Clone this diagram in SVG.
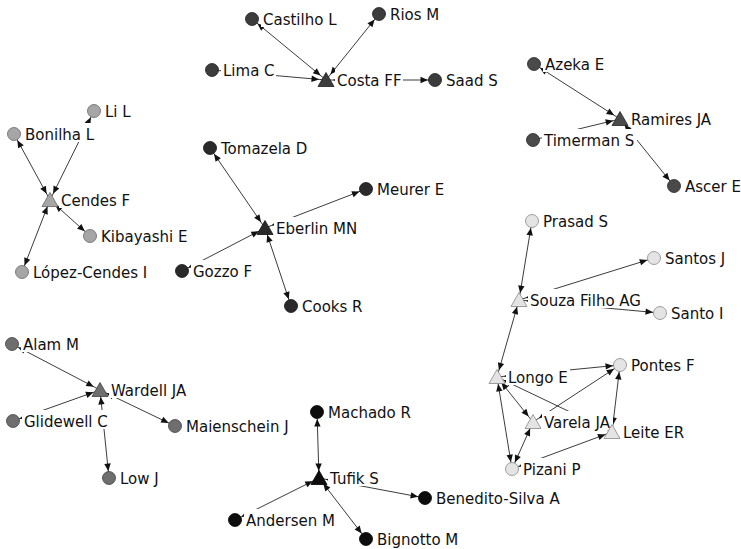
<svg xmlns="http://www.w3.org/2000/svg" xmlns:xlink="http://www.w3.org/1999/xlink" width="741" height="549" viewBox="0 0 741 549">
  <style>
    .e line { stroke: #262626; stroke-width: 0.9; marker-start: url(#ah); marker-end: url(#ah); }
    .e line.one { marker-start: none; }
    .lb { fill: #fff; }
    text { font-family: "DejaVu Sans", Verdana, sans-serif; font-size: 15px; fill: #111; }
    .g1 { fill: #3c3c3c; stroke: #1e1e1e; stroke-width: 0.8; }
    .g2 { fill: #a6a6a6; stroke: #666; stroke-width: 0.8; }
    .g3 { fill: #2a2a2a; stroke: #111; stroke-width: 0.8; }
    .g4 { fill: #4a4a4a; stroke: #262626; stroke-width: 0.8; }
    .g5 { fill: #e4e4e4; stroke: #888; stroke-width: 0.8; }
    .g6 { fill: #6e6e6e; stroke: #404040; stroke-width: 0.8; }
    .g7 { fill: #0d0d0d; stroke: #000; stroke-width: 0.8; }
  </style>
  <defs>
    <marker id="ah" viewBox="-16 -4 16 8" refX="0" refY="0" markerWidth="16" markerHeight="8" markerUnits="userSpaceOnUse" orient="auto-start-reverse">
      <path d="M-7,0 L-14.5,-3.2 L-14.5,3.2 Z" fill="#111"/>
    </marker>
    <circle id="dot" r="6.5"/>
    <path id="tri" d="M0,-7.5 L8,6.5 L-8,6.5 Z"/>
  </defs>
  <rect width="741" height="549" fill="#fff"/>

  <!-- connectors: drawn centre to centre, label boxes mask the hidden parts -->
  <g id="connectors" class="e">
    <line x1="252" y1="19" x2="326" y2="80"/>
    <line x1="379" y1="14" x2="326" y2="80"/>
    <line class="one" x1="212" y1="70" x2="326" y2="80"/>
    <line x1="326" y1="80" x2="435" y2="80"/>
    <line x1="14" y1="134" x2="50" y2="200"/>
    <line x1="94" y1="111" x2="50" y2="200"/>
    <line x1="50" y1="200" x2="90" y2="236"/>
    <line x1="50" y1="200" x2="22" y2="272"/>
    <line x1="210" y1="148" x2="265" y2="228"/>
    <line x1="265" y1="228" x2="366" y2="189"/>
    <line x1="182" y1="271" x2="265" y2="228"/>
    <line x1="265" y1="228" x2="291" y2="306"/>
    <line x1="534" y1="64" x2="620" y2="119"/>
    <line class="one" x1="533" y1="140" x2="620" y2="119"/>
    <line x1="620" y1="119" x2="674" y2="186"/>
    <line x1="532" y1="221" x2="519" y2="300"/>
    <line x1="519" y1="300" x2="654" y2="258"/>
    <line x1="519" y1="300" x2="660" y2="313"/>
    <line x1="519" y1="300" x2="497" y2="377"/>
    <line x1="497" y1="377" x2="620" y2="365"/>
    <line x1="533" y1="422" x2="620" y2="365"/>
    <line x1="612" y1="432" x2="620" y2="365"/>
    <line x1="497" y1="377" x2="533" y2="422"/>
    <line x1="497" y1="377" x2="612" y2="432"/>
    <line x1="497" y1="377" x2="512" y2="469"/>
    <line x1="512" y1="469" x2="533" y2="422"/>
    <line x1="512" y1="469" x2="612" y2="432"/>
    <line x1="12" y1="344" x2="100" y2="390"/>
    <line x1="13" y1="421" x2="100" y2="390"/>
    <line x1="100" y1="390" x2="175" y2="426"/>
    <line x1="100" y1="390" x2="109" y2="478"/>
    <line x1="317" y1="412" x2="319" y2="478"/>
    <line x1="235" y1="520" x2="319" y2="478"/>
    <line x1="319" y1="478" x2="425" y2="498"/>
    <line x1="319" y1="478" x2="366" y2="539"/>
  </g>

  <!-- Costa FF group -->
  <g id="castilho"><rect class="lb" x="261" y="8" width="77" height="19"/><text x="263" y="24.5">Castilho L</text><use href="#dot" x="252" y="19" class="g1"/></g>
  <g id="rios"><rect class="lb" x="388" y="3" width="53" height="19"/><text x="390" y="19.5">Rios M</text><use href="#dot" x="379" y="14" class="g1"/></g>
  <g id="lima"><rect class="lb" x="221" y="59" width="55" height="19"/><text x="223" y="75.5">Lima C</text><use href="#dot" x="212" y="70" class="g1"/></g>
  <g id="costa"><rect class="lb" x="335" y="69" width="68" height="19"/><text x="337" y="85.5">Costa FF</text><use href="#tri" x="326" y="80" class="g1"/></g>
  <g id="saad"><rect class="lb" x="444" y="69" width="55" height="19"/><text x="446" y="85.5">Saad S</text><use href="#dot" x="435" y="80" class="g1"/></g>

  <!-- Cendes F group -->
  <g id="li"><rect class="lb" x="103" y="100" width="29" height="19"/><text x="105" y="116.5">Li L</text><use href="#dot" x="94" y="111" class="g2"/></g>
  <g id="bonilha"><rect class="lb" x="23" y="123" width="73" height="19"/><text x="25" y="139.5">Bonilha L</text><use href="#dot" x="14" y="134" class="g2"/></g>
  <g id="cendes"><rect class="lb" x="59" y="189" width="73" height="19"/><text x="61" y="205.5">Cendes F</text><use href="#tri" x="50" y="200" class="g2"/></g>
  <g id="kibayashi"><rect class="lb" x="99" y="225" width="90" height="19"/><text x="101" y="241.5">Kibayashi E</text><use href="#dot" x="90" y="236" class="g2"/></g>
  <g id="lopez"><rect class="lb" x="31" y="261" width="118" height="19"/><text x="33" y="277.5">López-Cendes I</text><use href="#dot" x="22" y="272" class="g2"/></g>

  <!-- Eberlin MN group -->
  <g id="tomazela"><rect class="lb" x="219" y="137" width="93" height="19"/><text x="221" y="153.5">Tomazela D</text><use href="#dot" x="210" y="148" class="g3"/></g>
  <g id="meurer"><rect class="lb" x="375" y="178" width="71" height="19"/><text x="377" y="194.5">Meurer E</text><use href="#dot" x="366" y="189" class="g3"/></g>
  <g id="eberlin"><rect class="lb" x="274" y="217" width="85" height="19"/><text x="276" y="233.5">Eberlin MN</text><use href="#tri" x="265" y="228" class="g3"/></g>
  <g id="gozzo"><rect class="lb" x="191" y="260" width="63" height="19"/><text x="193" y="276.5">Gozzo F</text><use href="#dot" x="182" y="271" class="g3"/></g>
  <g id="cooks"><rect class="lb" x="300" y="295" width="64" height="19"/><text x="302" y="311.5">Cooks R</text><use href="#dot" x="291" y="306" class="g3"/></g>

  <!-- Ramires JA group -->
  <g id="azeka"><rect class="lb" x="543" y="53" width="63" height="19"/><text x="545" y="69.5">Azeka E</text><use href="#dot" x="534" y="64" class="g4"/></g>
  <g id="timerman"><rect class="lb" x="542" y="129" width="95" height="19"/><text x="544" y="145.5">Timerman S</text><use href="#dot" x="533" y="140" class="g4"/></g>
  <g id="ramires"><rect class="lb" x="629" y="108" width="85" height="19"/><text x="631" y="124.5">Ramires JA</text><use href="#tri" x="620" y="119" class="g4"/></g>
  <g id="ascer"><rect class="lb" x="683" y="175" width="58" height="19"/><text x="685" y="191.5">Ascer E</text><use href="#dot" x="674" y="186" class="g4"/></g>

  <!-- Souza Filho AG group -->
  <g id="prasad"><rect class="lb" x="541" y="210" width="69" height="19"/><text x="543" y="226.5">Prasad S</text><use href="#dot" x="532" y="221" class="g5"/></g>
  <g id="santosj"><rect class="lb" x="663" y="247" width="64" height="19"/><text x="665" y="263.5">Santos J</text><use href="#dot" x="654" y="258" class="g5"/></g>
  <g id="souza"><rect class="lb" x="528" y="289" width="116" height="19"/><text x="530" y="305.5">Souza Filho AG</text><use href="#tri" x="519" y="300" class="g5"/></g>
  <g id="santoi"><rect class="lb" x="669" y="302" width="56" height="19"/><text x="671" y="318.5">Santo I</text><use href="#dot" x="660" y="313" class="g5"/></g>
  <g id="longo"><rect class="lb" x="506" y="366" width="64" height="19"/><text x="508" y="382.5">Longo E</text><use href="#tri" x="497" y="377" class="g5"/></g>
  <g id="pontes"><rect class="lb" x="629" y="354" width="68" height="19"/><text x="631" y="370.5">Pontes F</text><use href="#dot" x="620" y="365" class="g5"/></g>
  <g id="varela"><rect class="lb" x="542" y="411" width="71" height="19"/><text x="544" y="427.5">Varela JA</text><use href="#tri" x="533" y="422" class="g5"/></g>
  <g id="leite"><rect class="lb" x="621" y="421" width="65" height="19"/><text x="623" y="437.5">Leite ER</text><use href="#tri" x="612" y="432" class="g5"/></g>
  <g id="pizani"><rect class="lb" x="521" y="458" width="62" height="19"/><text x="523" y="474.5">Pizani P</text><use href="#dot" x="512" y="469" class="g5"/></g>

  <!-- Wardell JA group -->
  <g id="alam"><rect class="lb" x="21" y="333" width="60" height="19"/><text x="23" y="349.5">Alam M</text><use href="#dot" x="12" y="344" class="g6"/></g>
  <g id="wardell"><rect class="lb" x="109" y="379" width="81" height="19"/><text x="111" y="395.5">Wardell JA</text><use href="#tri" x="100" y="390" class="g6"/></g>
  <g id="glidewell"><rect class="lb" x="22" y="410" width="88" height="19"/><text x="24" y="426.5">Glidewell C</text><use href="#dot" x="13" y="421" class="g6"/></g>
  <g id="maienschein"><rect class="lb" x="184" y="415" width="107" height="19"/><text x="186" y="431.5">Maienschein J</text><use href="#dot" x="175" y="426" class="g6"/></g>
  <g id="low"><rect class="lb" x="118" y="467" width="43" height="19"/><text x="120" y="483.5">Low J</text><use href="#dot" x="109" y="478" class="g6"/></g>

  <!-- Tufik S group -->
  <g id="machado"><rect class="lb" x="326" y="401" width="87" height="19"/><text x="328" y="417.5">Machado R</text><use href="#dot" x="317" y="412" class="g7"/></g>
  <g id="tufik"><rect class="lb" x="328" y="467" width="55" height="19"/><text x="330" y="483.5">Tufik S</text><use href="#tri" x="319" y="478" class="g7"/></g>
  <g id="benedito"><rect class="lb" x="434" y="487" width="127" height="19"/><text x="436" y="503.5">Benedito-Silva A</text><use href="#dot" x="425" y="498" class="g7"/></g>
  <g id="andersen"><rect class="lb" x="244" y="509" width="93" height="19"/><text x="246" y="525.5">Andersen M</text><use href="#dot" x="235" y="520" class="g7"/></g>
  <g id="bignotto"><rect class="lb" x="375" y="528" width="85" height="19"/><text x="377" y="544.5">Bignotto M</text><use href="#dot" x="366" y="539" class="g7"/></g>
</svg>
